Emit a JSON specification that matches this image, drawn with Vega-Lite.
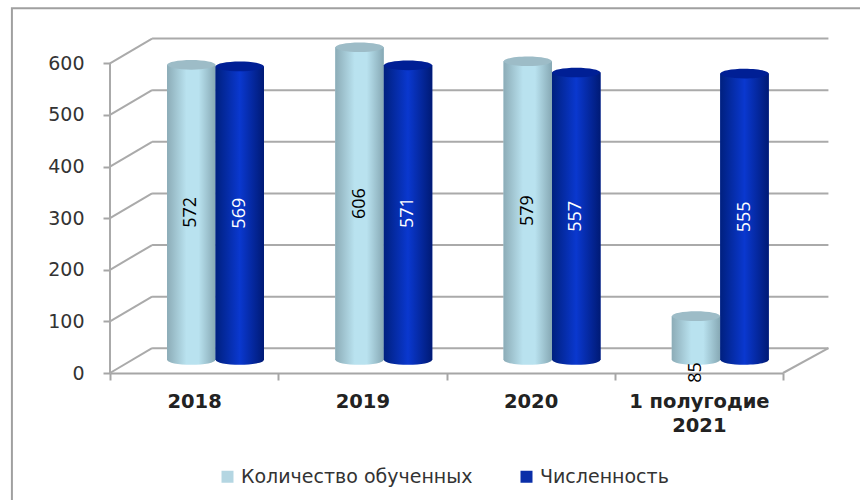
{
"$schema":"https://vega.github.io/schema/vega-lite/v6.json",
"width":730,"height":359,
"autosize":{"type":"none"},
"padding":{"left":110,"top":14,"right":20,"bottom":127},
"background":"white",
"config":{"view":{"stroke":null},"axis":{"grid":false}},
"datasets":{
"bars":[
{"period":"2018","series":"Количество обученных","value":572},
{"period":"2018","series":"Численность","value":569},
{"period":"2019","series":"Количество обученных","value":606},
{"period":"2019","series":"Численность","value":571},
{"period":"2020","series":"Количество обученных","value":579},
{"period":"2020","series":"Численность","value":557},
{"period":"1  полугодие 2021","series":"Количество обученных","value":85},
{"period":"1  полугодие 2021","series":"Численность","value":555}
],
"wall":[
{"x":-0.583,"x2":5,"y":707,"y2":-260,"part":"frame"},
{"x":0,"x2":0,"y":0,"y2":600,"part":"axis"},
{"x":0,"x2":0.25,"y":0,"y2":48,"part":"side"},
{"x":0,"x2":0.25,"y":100,"y2":148,"part":"side"},
{"x":0,"x2":0.25,"y":200,"y2":248,"part":"side"},
{"x":0,"x2":0.25,"y":300,"y2":348,"part":"side"},
{"x":0,"x2":0.25,"y":400,"y2":448,"part":"side"},
{"x":0,"x2":0.25,"y":500,"y2":548,"part":"side"},
{"x":0,"x2":0.25,"y":600,"y2":648,"part":"side"},
{"x":4,"x2":4.27,"y":0,"y2":48,"part":"side"},
{"x":0.25,"x2":4.27,"y":48,"y2":48,"part":"back"},
{"x":0.25,"x2":4.27,"y":148,"y2":148,"part":"back"},
{"x":0.25,"x2":4.27,"y":248,"y2":248,"part":"back"},
{"x":0.25,"x2":4.27,"y":348,"y2":348,"part":"back"},
{"x":0.25,"x2":4.27,"y":448,"y2":448,"part":"back"},
{"x":0.25,"x2":4.27,"y":548,"y2":548,"part":"back"},
{"x":0.25,"x2":4.27,"y":648,"y2":648,"part":"back"}
]},
"data":{"name":"bars"},
"resolve":{"scale":{"x":"independent"},"axis":{"x":"independent"}},
"layer":[
{"data":{"name":"wall"},"transform":[{"filter":"datum.part=='frame'"}],
 "mark":{"type":"rect","fillOpacity":0,"stroke":"#a0a0a0","strokeWidth":2,"clip":false},
 "encoding":{
  "x":{"field":"x","type":"quantitative","axis":null,"scale":{"domain":[0,4],"range":[0,673]}},
  "x2":{"field":"x2"},
  "y":{"field":"y","type":"quantitative","scale":{"domain":[0,695.7],"nice":false},
   "axis":{"values":[0,100,200,300,400,500,600],"title":null,"domain":false,"tickColor":"#a6a6a6","tickWidth":2,"tickSize":7,"labelPadding":19,"labelFont":"DejaVu Sans","labelFontSize":19,"labelColor":"#333333"}},
  "y2":{"field":"y2"}}},
{"data":{"name":"wall"},"transform":[{"filter":"datum.part!='frame'"}],
 "mark":{"type":"rule","stroke":"#aaaaaa","strokeWidth":2},
 "encoding":{
  "x":{"field":"x","type":"quantitative","axis":null,"scale":{"domain":[0,4],"range":[0,673]}},
  "x2":{"field":"x2"},
  "y":{"field":"y","type":"quantitative"},
  "y2":{"field":"y2"}}},
{"layer":[
 {"mark":{"type":"bar","yOffset":-13,"y2Offset":-13},
  "encoding":{
   "color":{"field":"series","type":"nominal","scale":{"domain":["Количество обученных","Численность"],"range":["#b4d6e2","#0a2ea8"]},
    "legend":{"title":null,"orient":"none","legendX":108,"legendY":453,"direction":"horizontal","columns":2,"symbolType":"square","symbolSize":144,"labelFont":"DejaVu Sans","labelFontSize":19,"labelLimit":400,"labelColor":"#333333","columnPadding":44,"symbolStrokeWidth":0}}}},
 {"transform":[{"filter":"datum.series=='Количество обученных'"}],
  "mark":{"type":"point","filled":true,"opacity":1,"size":2304,"yOffset":-13,"shape":"M-1,0A1,0.2,0,1,0,1,0A1,0.2,0,1,0,-1,0Z",
   "fill":{"x1":0,"y1":0,"x2":1,"y2":0,"gradient":"linear","stops":[{"offset":0,"color":"#8cacb7"},{"offset":0.4,"color":"#b9e2ef"},{"offset":0.65,"color":"#b9e2ef"},{"offset":1,"color":"#86a8b4"}]}},
  "encoding":{"y":{"datum":0,"type":"quantitative"}}},
 {"transform":[{"filter":"datum.series=='Количество обученных'"}],
  "mark":{"type":"bar","yOffset":-13,"y2Offset":-13,
   "fill":{"x1":0,"y1":0,"x2":1,"y2":0,"gradient":"linear","stops":[{"offset":0,"color":"#8cacb7"},{"offset":0.4,"color":"#b9e2ef"},{"offset":0.65,"color":"#b9e2ef"},{"offset":1,"color":"#86a8b4"}]}}},
 {"transform":[{"filter":"datum.series=='Количество обученных'"}],
  "mark":{"type":"point","filled":true,"opacity":1,"size":2304,"yOffset":-13,"shape":"M-1,0A1,0.2,0,1,0,1,0A1,0.2,0,1,0,-1,0Z","fill":"#9dbcc7"}},
 {"transform":[{"filter":"datum.series=='Численность'"}],
  "mark":{"type":"point","filled":true,"opacity":1,"size":2304,"yOffset":-13,"shape":"M-1,0A1,0.2,0,1,0,1,0A1,0.2,0,1,0,-1,0Z",
   "fill":{"x1":0,"y1":0,"x2":1,"y2":0,"gradient":"linear","stops":[{"offset":0,"color":"#00207f"},{"offset":0.5,"color":"#0a38cf"},{"offset":1,"color":"#001a75"}]}},
  "encoding":{"y":{"datum":0,"type":"quantitative"}}},
 {"transform":[{"filter":"datum.series=='Численность'"}],
  "mark":{"type":"bar","yOffset":-13,"y2Offset":-13,
   "fill":{"x1":0,"y1":0,"x2":1,"y2":0,"gradient":"linear","stops":[{"offset":0,"color":"#00207f"},{"offset":0.5,"color":"#0a38cf"},{"offset":1,"color":"#001a75"}]}}},
 {"transform":[{"filter":"datum.series=='Численность'"}],
  "mark":{"type":"point","filled":true,"opacity":1,"size":2304,"yOffset":-13,"shape":"M-1,0A1,0.2,0,1,0,1,0A1,0.2,0,1,0,-1,0Z","fill":"#001f95"}},
 {"transform":[{"calculate":"datum.value<100?-24:datum.value/2","as":"labelAt"}],
  "mark":{"type":"text","angle":270,"yOffset":-13,"font":"Open Sans","fontSize":18,"align":"center","baseline":"middle"},
  "encoding":{
   "y":{"field":"labelAt","type":"quantitative"},
   "text":{"field":"value","type":"quantitative"},
   "color":{"condition":{"test":"datum.series=='Численность'","value":"white"},"value":"black"}}}
 ],
 "encoding":{
  "x":{"field":"period","type":"nominal","sort":["2018","2019","2020","1  полугодие 2021"],
   "scale":{"range":[0,673],"padding":0},
   "axis":{"title":null,"labelAngle":0,"tickBand":"extent","domainColor":"#a6a6a6","domainWidth":2,"tickColor":"#a6a6a6","tickWidth":2,"tickSize":7,"labelPadding":12,"labelFont":"DejaVu Sans","labelFontWeight":"bold","labelFontSize":19.5,"labelColor":"#222222","labelLineHeight":24,
    "labelExpr":"datum.label=='1  полугодие 2021'?['1  полугодие','2021']:datum.label"}},
  "xOffset":{"field":"series","type":"nominal","scale":{"domain":["Количество обученных","Численность"],"paddingInner":0,"paddingOuter":0.735,"align":0.8}},
  "y":{"field":"value","type":"quantitative"}
 }}
]}
